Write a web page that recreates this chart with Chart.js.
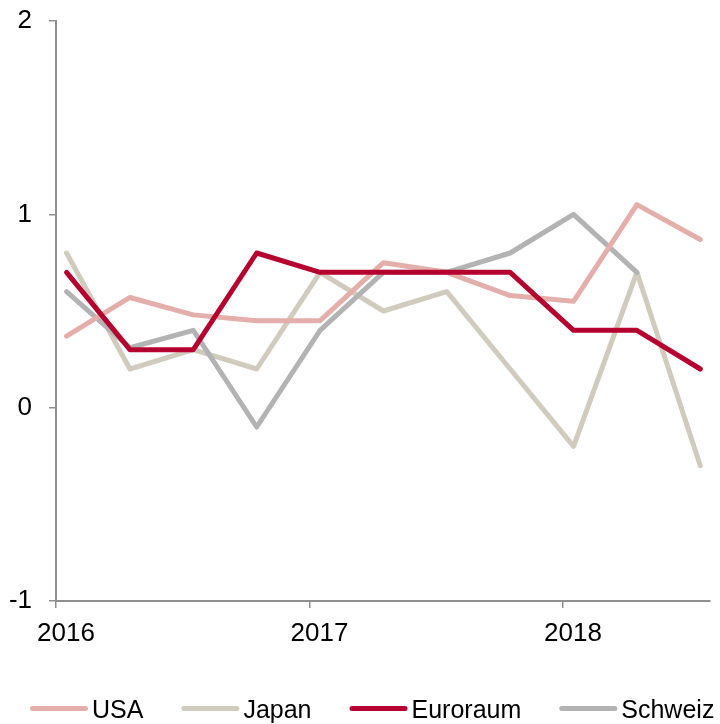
<!DOCTYPE html>
<html>
<head>
<meta charset="utf-8">
<script src="https://cdn.jsdelivr.net/npm/chart.js@4/dist/chart.umd.min.js"></script>
<style>
  html, body { margin: 0; padding: 0; background: #ffffff; }
  #wrap { width: 720px; height: 724px; }
</style>
</head>
<body>
<div id="wrap"><canvas id="c" width="720" height="724"></canvas></div>
<script>
// ---- data ----
const quarters = ['2016Q1','2016Q2','2016Q3','2016Q4','2017Q1','2017Q2','2017Q3','2017Q4','2018Q1','2018Q2','2018Q3'];
const usa      = [0.37, 0.57, 0.48, 0.45, 0.45, 0.75, 0.70, 0.58, 0.55, 1.05, 0.87];
const japan    = [0.80, 0.20, 0.30, 0.20, 0.70, 0.50, 0.60, 0.20, -0.20, 0.70, -0.30];
const euroraum = [0.70, 0.30, 0.30, 0.80, 0.70, 0.70, 0.70, 0.70, 0.40, 0.40, 0.20];
const schweiz  = [0.60, 0.31, 0.40, -0.10, 0.40, 0.70, 0.70, 0.80, 1.00, 0.70, null];
const seriesNames = ['USA', 'Japan', 'Euroraum', 'Schweiz'];
const yearTicks = [2016, 2017, 2018];
const yTicks = [-1, 0, 1, 2];
const xMin = 2016, xMax = 2018.58;

// quarter label -> position in years (mid of first month of the quarter)
function quarterPos(q) {
  const y = parseInt(q.slice(0, 4), 10);
  const n = parseInt(q.slice(5), 10);
  return y + (n - 1) / 4 + 1 / 24;
}
function toPoints(vals) {
  return quarters.map((q, i) => ({ x: quarterPos(q), y: vals[i] }));
}

const FONT = '"Liberation Sans", Arial, Helvetica, sans-serif';
const AXIS = '#8f8f8f';
Chart.defaults.font.family = FONT;
Chart.defaults.color = '#000000';

const colors = ['#E4AEAB', '#D0CBBD', '#B5002F', '#B3B3B3'];
const seriesVals = [usa, japan, euroraum, schweiz];
const drawOrder = [1, 3, 0, 2];

const datasets = seriesNames.map((name, i) => ({
  label: name,
  data: toPoints(seriesVals[i]),
  borderColor: colors[i],
  backgroundColor: colors[i],
  borderWidth: 5,
  borderCapStyle: 'round',
  borderJoinStyle: 'round',
  pointRadius: 0,
  pointHoverRadius: 0,
  tension: 0,
  fill: false,
  order: drawOrder[i]
}));

// legend drawn as line samples + text below the chart
const lineLegend = {
  id: 'lineLegend',
  afterDraw(chart) {
    const ctx = chart.ctx;
    ctx.save();
    ctx.font = '25px ' + FONT;
    ctx.textBaseline = 'alphabetic';
    ctx.textAlign = 'left';
    const lineLen = 53, textGap = 59.5, itemGap = 40.5;
    const lineY = 708.5, textY = 718;
    let x = 32.5;
    chart.data.datasets.forEach(ds => {
      ctx.strokeStyle = ds.borderColor;
      ctx.lineWidth = 5;
      ctx.lineCap = 'round';
      ctx.beginPath();
      ctx.moveTo(x, lineY);
      ctx.lineTo(x + lineLen, lineY);
      ctx.stroke();
      ctx.fillStyle = '#000000';
      ctx.fillText(ds.label, x + textGap, textY);
      x = x + textGap + ctx.measureText(ds.label).width + itemGap;
    });
    ctx.restore();
  }
};

new Chart(document.getElementById('c'), {
  type: 'line',
  data: { datasets },
  options: {
    responsive: false,
    animation: false,
    events: [],
    layout: { padding: { top: 21, right: 10, bottom: 63, left: 0 } },
    plugins: {
      legend: { display: false },
      tooltip: { enabled: false }
    },
    scales: {
      x: {
        type: 'linear',
        min: xMin,
        max: xMax,
        afterBuildTicks: s => { s.ticks = yearTicks.map(v => ({ value: v })); },
        afterFit: s => { s.height = 60; s.paddingLeft = 0; s.paddingRight = 0; },
        ticks: {
          font: { size: 26 },
          color: '#000000',
          padding: 10,
          labelOffset: 10,
          maxRotation: 0,
          autoSkip: false,
          callback: v => String(v)
        },
        grid: { display: true, drawOnChartArea: false, drawTicks: true, tickLength: 7, color: AXIS, lineWidth: 1.5 },
        border: { display: true, color: AXIS, width: 2 }
      },
      y: {
        type: 'linear',
        min: -1,
        max: 2,
        afterBuildTicks: s => { s.ticks = yTicks.map(v => ({ value: v })); },
        afterFit: s => { s.width = 56; s.paddingTop = 0; s.paddingBottom = 0; },
        ticks: {
          font: { size: 26 },
          color: '#000000',
          padding: 17,
          callback: v => String(v)
        },
        grid: { display: true, drawOnChartArea: false, drawTicks: true, tickLength: 7, color: AXIS, lineWidth: 1.5 },
        border: { display: true, color: AXIS, width: 2 }
      }
    }
  },
  plugins: [lineLegend]
});
</script>
</body>
</html>
